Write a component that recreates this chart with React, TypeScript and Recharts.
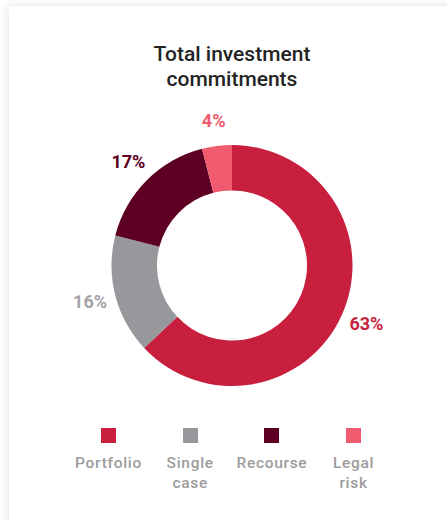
import React from "react"
import { PieChart, Pie, Cell } from "recharts"

const categories = ["Portfolio", "Single case", "Recourse", "Legal risk"]
const shares = [63, 16, 17, 4]
const sliceColors = ["#c81f3f", "#97989b", "#5e0024", "#f15b6f"]
const labelColors = ["#c81f3f", "#a3a4a7", "#5e0024", "#f15b6f"]

const data = categories.map((name, i) => ({ name, value: shares[i] }))

const RADIAN = Math.PI / 180
const FONT = "Roboto, 'Noto Sans', Arial, sans-serif"

const renderLabel = ({ cx, cy, midAngle, outerRadius, index, value }: any) => {
    const r = outerRadius + 26
    const x = cx + r * Math.cos(-midAngle * RADIAN)
    const y = cy + r * Math.sin(-midAngle * RADIAN)
    return (
        <text
            x={x}
            y={y}
            textAnchor="middle"
            dominantBaseline="central"
            fill={labelColors[index]}
            fontFamily={FONT}
            fontWeight={700}
            fontSize={18}
        >
            {value}%
        </text>
    )
}

export default function App() {
    return (
        <div style={{ position: "absolute", left: 0, top: 0, width: 447, height: 520, overflow: "hidden", background: "#fff" }}>
            <div
                style={{
                    position: "absolute",
                    left: 9,
                    top: 6,
                    width: 460,
                    height: 540,
                    background: "#fff",
                    boxShadow: "0 0 10px rgba(0,0,0,0.13)",
                }}
            />
            <div
                style={{
                    position: "absolute",
                    left: 0,
                    top: 42,
                    width: 464,
                    textAlign: "center",
                    fontFamily: FONT,
                    fontWeight: 500,
                    fontSize: 21,
                    lineHeight: "25px",
                    color: "#232323",
                }}
            >
                Total investment
                <br />
                commitments
            </div>
            <div style={{ position: "absolute", left: 0, top: 0 }}>
                <PieChart width={447} height={410} margin={{ top: 0, right: 0, bottom: 0, left: 0 }}>
                    <Pie
                        data={data}
                        dataKey="value"
                        nameKey="name"
                        cx={232}
                        cy={265.5}
                        innerRadius={75}
                        outerRadius={120.5}
                        startAngle={90}
                        endAngle={-270}
                        stroke="none"
                        label={renderLabel}
                        labelLine={false}
                        isAnimationActive={false}
                    >
                        {data.map((d, i) => (
                            <Cell key={d.name} fill={sliceColors[i]} />
                        ))}
                    </Pie>
                </PieChart>
            </div>
            <div
                style={{
                    position: "absolute",
                    left: 67.7,
                    top: 428,
                    display: "flex",
                    fontFamily: FONT,
                    fontWeight: 500,
                    fontSize: 15.5,
                    lineHeight: "20px",
                    letterSpacing: 0.7,
                    color: "#9c9c9c",
                }}
            >
                {categories.map((name, i) => (
                    <div key={name} style={{ width: 81.7, display: "flex", flexDirection: "column", alignItems: "center" }}>
                        <div style={{ width: 15, height: 15, background: sliceColors[i] }} />
                        <div style={{ marginTop: 10, width: "min-content", textAlign: "center" }}>{name}</div>
                    </div>
                ))}
            </div>
        </div>
    )
}
